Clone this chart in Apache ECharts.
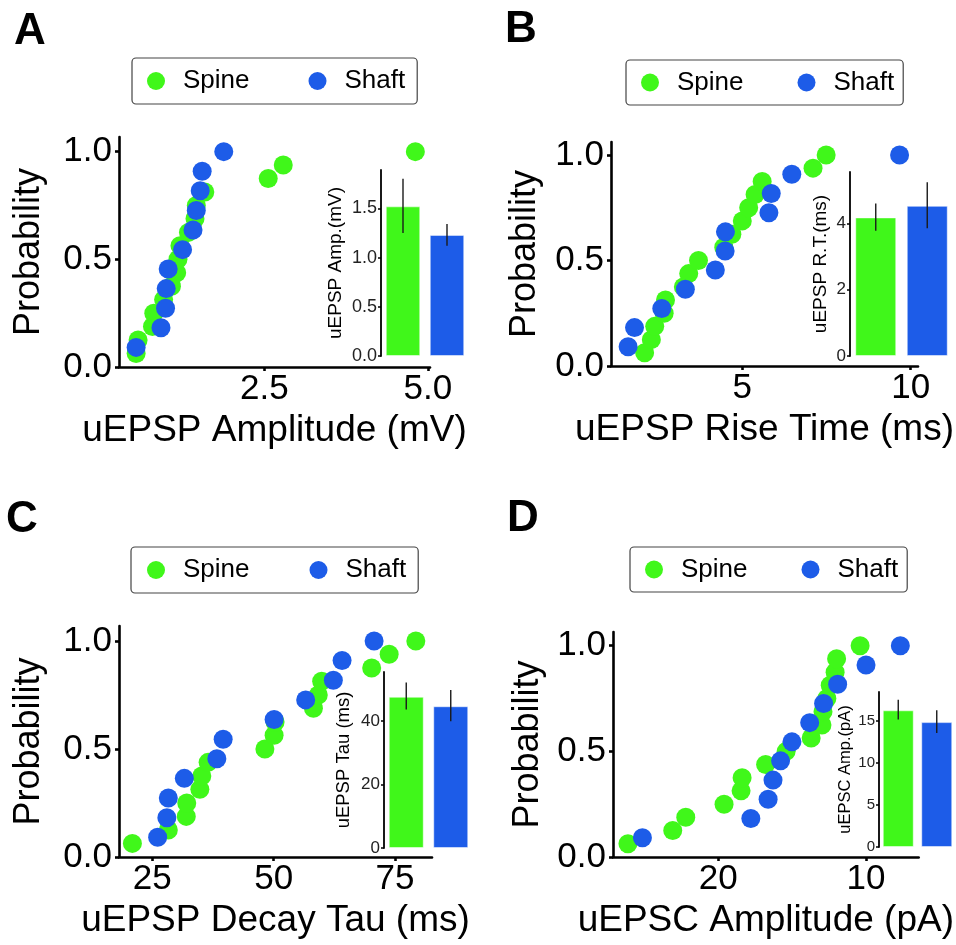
<!DOCTYPE html>
<html><head><meta charset="utf-8">
<script src="https://cdn.jsdelivr.net/npm/echarts@6/dist/echarts.min.js"></script>
<style>html,body{margin:0;padding:0;background:#fff}#c{width:956px;height:945px}</style>
</head><body><div id="c"></div><script>
// ---------- data ----------
const groups = ['Spine', 'Shaft'];
const spineProb = [0.063, 0.125, 0.188, 0.25, 0.313, 0.375, 0.438, 0.5, 0.563, 0.625, 0.688, 0.75, 0.813, 0.875, 0.938, 1.0];
const shaftProb = [0.091, 0.182, 0.273, 0.364, 0.455, 0.545, 0.636, 0.727, 0.818, 0.909, 1.0];

// A: uEPSP amplitude (mV)
const spineAmpA = [0.54, 0.57, 0.79, 0.81, 0.96, 1.08, 1.16, 1.18, 1.21, 1.34, 1.44, 1.46, 1.59, 2.56, 2.79, 4.81];
const shaftAmpA = [0.54, 0.92, 0.99, 1.00, 1.03, 1.25, 1.41, 1.46, 1.52, 1.55, 1.88];
// B: uEPSP rise time (ms)
const spineRtB = [2.10, 2.30, 2.40, 2.68, 2.72, 3.25, 3.41, 3.70, 4.45, 4.69, 5.00, 5.19, 5.38, 5.59, 7.10, 7.49];
const shaftRtB = [1.61, 1.80, 2.61, 3.31, 4.20, 4.49, 4.50, 5.79, 5.86, 6.47, 9.67];
// C: uEPSP decay tau (ms)
const spineTauC = [20.9, 28.3, 32.0, 32.1, 34.8, 35.2, 36.5, 48.2, 50.1, 50.3, 58.2, 59.2, 59.9, 70.2, 73.8, 79.3];
const shaftTauC = [26.1, 28.0, 28.3, 31.6, 38.3, 39.6, 50.1, 56.6, 62.3, 64.1, 70.7];
// D: uEPSC amplitude (pA)
const spineAmpD = [26.1, 23.07, 22.19, 19.60, 18.45, 18.38, 16.79, 15.40, 13.71, 12.98, 12.91, 12.65, 12.42, 12.09, 11.99, 10.40];
const shaftAmpD = [25.12, 17.79, 16.62, 16.29, 15.78, 15.01, 13.81, 12.87, 11.92, 10.00, 7.68];

// inset bar means and error limits [Spine, Shaft]
const meanA = [1.52, 1.23];   const errA = [[1.25, 1.80], [1.12, 1.34]];
const meanB = [4.18, 4.53];   const errB = [[3.78, 4.60], [3.85, 5.24]];
const meanC = [47.7, 44.7];   const errC = [[43.7, 52.2], [40.0, 49.8]];
const meanD = [16.2, 14.8];   const errD = [[15.1, 17.45], [13.5, 16.2]];

// tick values and labels
const probTicks = [0, 0.5, 1.0];           const probLabels = ['0.0', '0.5', '1.0'];
const xTicksA = [2.5, 5.0];                const xLabelsA = ['2.5', '5.0'];
const xTicksB = [5, 10];                   const xLabelsB = ['5', '10'];
const xTicksC = [25, 50, 75];              const xLabelsC = ['25', '50', '75'];
const xTicksD = [10, 20];                  const xLabelsD = ['10', '20'];
const inTicksA = [0, 0.5, 1.0, 1.5];       const inLabelsA = ['0.0', '0.5', '1.0', '1.5'];
const inTicksB = [0, 2, 4];                const inLabelsB = ['0', '2', '4'];
const inTicksC = [0, 20, 40];              const inLabelsC = ['0', '20', '40'];
const inTicksD = [0, 5, 10, 15];           const inLabelsD = ['0', '5', '10', '15'];

const xTitles = ['uEPSP Amplitude (mV)', 'uEPSP Rise Time (ms)', 'uEPSP Decay Tau (ms)', 'uEPSC Amplitude (pA)'];
const inTitles = ['uEPSP Amp.(mV)', 'uEPSP R.T.(ms)', 'uEPSP Tau (ms)', 'uEPSC Amp.(pA)'];
const letters = ['A', 'B', 'C', 'D'];

// ---------- layout / style ----------
const FONT = '"Liberation Sans", Arial, Helvetica, sans-serif';
const GREEN = '#40F71A', BLUE = '#1D5CE8';

const panels = [
  { grid: {left: 119, top: 137, width: 311, height: 230}, xmin: 0.278, xmax: 5.034, ymax: 1.068, inverse: false,
    xt: xTicksA, xl: xLabelsA, yGap: 72,
    inset: {left: 381, top: 170, width: 88, height: 186}, inMax: 1.889, it: inTicksA, il: inLabelsA,
    inLabel: 18, inName: 19, inGap: 36, barW: 34.5,
    spine: spineAmpA, shaft: shaftAmpA, mean: meanA, err: errA,
    legend: {left: 132, top: 58, pl: 15, pr: 12, gap: 59, h: 46},
    letter: {x: 14, y: 32} },
  { grid: {left: 611, top: 142, width: 307, height: 224}, xmin: 1.102, xmax: 10.217, ymax: 1.062, inverse: false,
    xt: xTicksB, xl: xLabelsB, yGap: 68,
    inset: {left: 850, top: 172, width: 103, height: 184}, inMax: 5.55, it: inTicksB, il: inLabelsB,
    inLabel: 17, inName: 19, inGap: 20, barW: 41,
    spine: spineRtB, shaft: shaftRtB, mean: meanB, err: errB,
    legend: {left: 626, top: 60, pl: 15, pr: 9, gap: 54, h: 45},
    letter: {x: 505, y: 30} },
  { grid: {left: 119, top: 626, width: 313, height: 231}, xmin: 18.14, xmax: 82.63, ymax: 1.069, inverse: false,
    xt: xTicksC, xl: xLabelsC, yGap: 72,
    inset: {left: 384, top: 672, width: 89, height: 176}, inMax: 55.5, it: inTicksC, il: inLabelsC,
    inLabel: 17, inName: 18.5, inGap: 31, barW: 35,
    spine: spineTauC, shaft: shaftTauC, mean: meanC, err: errC,
    legend: {left: 131, top: 547, pl: 16, pr: 12, gap: 60, h: 46},
    letter: {x: 6, y: 520} },
  { grid: {left: 613, top: 632, width: 312, height: 225}, xmin: 6.44, xmax: 27.11, ymax: 1.065, inverse: true,
    xt: xTicksD, xl: xLabelsD, yGap: 67,
    inset: {left: 879, top: 692, width: 79, height: 155}, inMax: 18.37, it: inTicksD, il: inLabelsD,
    inLabel: 15, inName: 16.5, inGap: 17, barW: 31,
    spine: spineAmpD, shaft: shaftAmpD, mean: meanD, err: errD,
    legend: {left: 630, top: 547, pl: 15, pr: 9, gap: 54, h: 45},
    letter: {x: 507, y: 519} }
];

function labelFmt(ticks, labels) {
  return function (v) {
    for (let i = 0; i < ticks.length; i++) if (Math.abs(ticks[i] - v) < 1e-9) return labels[i];
    return '';
  };
}

const grid = [], xAxis = [], yAxis = [], series = [], legend = [], graphic = [];
const axisLine = {show: true, onZero: false, lineStyle: {color: '#000', width: 2.6}};

panels.forEach((p, i) => {
  grid.push(Object.assign({containLabel: false}, p.grid));
  xAxis.push({
    type: 'value', gridIndex: i, min: p.xmin, max: p.xmax, inverse: p.inverse,
    axisLine: axisLine,
    axisTick: {show: true, length: 4, customValues: p.xt, lineStyle: {color: '#000', width: 2.6}},
    axisLabel: {customValues: p.xt, formatter: labelFmt(p.xt, p.xl), fontSize: 35, color: '#000', fontFamily: FONT, margin: 5},
    splitLine: {show: false},
    name: xTitles[i], nameLocation: 'middle', nameGap: 45,
    nameTextStyle: {fontSize: 37, color: '#000', fontFamily: FONT}
  });
  yAxis.push({
    type: 'value', gridIndex: i, min: 0, max: p.ymax,
    axisLine: axisLine,
    axisTick: {show: true, length: 4, customValues: probTicks, lineStyle: {color: '#000', width: 2.6}},
    axisLabel: {customValues: probTicks, formatter: labelFmt(probTicks, probLabels), fontSize: 35, color: '#000', fontFamily: FONT, margin: 7},
    splitLine: {show: false},
    name: 'Probability', nameLocation: 'middle', nameGap: p.yGap,
    nameTextStyle: {fontSize: 36, color: '#000', fontFamily: FONT}
  });
});

panels.forEach((p, i) => {
  const gi = 4 + i;
  grid.push(Object.assign({containLabel: false}, p.inset));
  xAxis.push({type: 'category', gridIndex: gi, data: groups, show: false});
  yAxis.push({
    type: 'value', gridIndex: gi, min: 0, max: p.inMax,
    axisLine: {show: true, lineStyle: {color: '#000', width: 1.8}},
    axisTick: {show: true, length: 3, customValues: p.it, lineStyle: {color: '#000', width: 1.5}},
    axisLabel: {customValues: p.it, formatter: labelFmt(p.it, p.il), fontSize: p.inLabel, color: '#222', fontFamily: FONT, margin: 4},
    splitLine: {show: false},
    name: inTitles[i], nameLocation: 'middle', nameGap: p.inGap,
    nameTextStyle: {fontSize: p.inName, color: '#000', fontFamily: FONT}
  });
});

panels.forEach((p, i) => {
  series.push({
    type: 'scatter', name: 'Spine', xAxisIndex: i, yAxisIndex: i,
    data: p.spine.map((x, k) => [x, spineProb[k]]),
    symbol: 'circle', symbolSize: 19, itemStyle: {color: GREEN, opacity: 1}, z: 2
  });
  series.push({
    type: 'scatter', name: 'Shaft', xAxisIndex: i, yAxisIndex: i,
    data: p.shaft.map((x, k) => [x, shaftProb[k]]),
    symbol: 'circle', symbolSize: 19, itemStyle: {color: BLUE, opacity: 1}, z: 3
  });
  series.push({
    type: 'bar', name: 'mean' + letters[i], xAxisIndex: 4 + i, yAxisIndex: 4 + i,
    barWidth: p.barW,
    data: [
      {value: p.mean[0], itemStyle: {color: GREEN}},
      {value: p.mean[1], itemStyle: {color: BLUE}}
    ],
    itemStyle: {borderColor: 'rgba(255,255,255,0.5)', borderWidth: 1}, z: 4
  });
  series.push({
    type: 'custom', name: 'err' + letters[i], xAxisIndex: 4 + i, yAxisIndex: 4 + i,
    data: p.err.map((e, k) => [k, e[0], e[1]]),
    encode: {x: 0, y: [1, 2]},
    renderItem: function (params, api) {
      const a = api.coord([api.value(0), api.value(1)]);
      const b = api.coord([api.value(0), api.value(2)]);
      return {type: 'line', shape: {x1: a[0], y1: a[1], x2: b[0], y2: b[1]},
              style: {stroke: '#1a1a1a', lineWidth: 1.4}};
    }, z: 5
  });
  const L = p.legend;
  legend.push({
    data: groups, left: L.left, top: L.top, orient: 'horizontal',
    icon: 'circle', itemWidth: 44, itemHeight: 18, itemGap: L.gap,
    padding: [(L.h - 26) / 2, L.pr, (L.h - 26) / 2, L.pl],
    borderColor: '#444', borderWidth: 1.2, borderRadius: 4,
    textStyle: {fontSize: 26, color: '#000', fontFamily: FONT},
    selectedMode: false
  });
  graphic.push({
    type: 'text', x: p.letter.x, y: p.letter.y,
    style: {text: letters[i], fontSize: 44, fontWeight: 'bold', fontFamily: FONT, fill: '#000', verticalAlign: 'middle'}
  });
});

const chart = echarts.init(document.getElementById('c'), null, {renderer: 'canvas'});
chart.setOption({
  backgroundColor: '#fff',
  animation: false,
  grid, xAxis, yAxis, series, legend, graphic
});
</script></body></html>
